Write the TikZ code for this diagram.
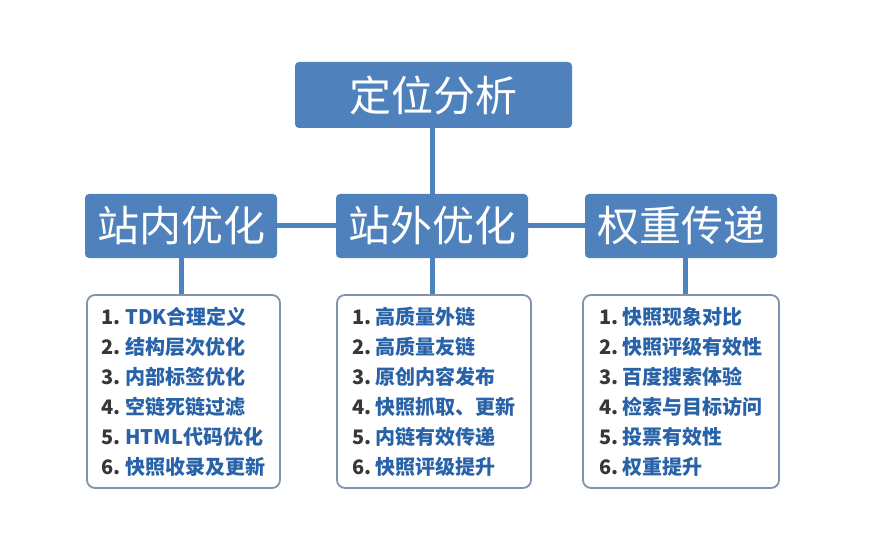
\documentclass[tikz,border=0pt]{standalone}
\usepackage{fontspec}
\setmainfont{Noto Sans CJK SC}
\definecolor{boxblue}{RGB}{79,129,189}
\definecolor{listborder}{RGB}{128,148,175}
\definecolor{itemblue}{RGB}{40,98,168}
\definecolor{numgray}{RGB}{55,55,55}
\newcommand\itm[2]{{\color{numgray}#1.}\ #2}
\begin{document}
\begin{tikzpicture}[x=1pt,y=-1pt,
  headbox/.style={draw=none,fill=boxblue,rounded corners=4pt,text=white,
    font=\fontsize{42}{46}\selectfont,inner sep=0pt},
  listbox/.style={draw=listborder,line width=1.8pt,fill=white,rounded corners=8pt,
    minimum width=#1,minimum height=193pt,inner sep=0pt,align=left,
    text=itemblue,font=\bfseries\fontsize{20}{30}\selectfont},
  link/.style={draw=boxblue,line width=5pt}]
\useasboundingbox (0,0) rectangle (888,537);
\node[headbox,minimum width=277pt,minimum height=66pt] (top) at (433.5,95) {定位分析};
\node[headbox,minimum width=192pt,minimum height=64pt] (left) at (181,226) {站内优化};
\node[headbox,minimum width=192pt,minimum height=64pt] (mid) at (432,226) {站外优化};
\node[headbox,minimum width=192pt,minimum height=64pt] (right) at (681,226) {权重传递};
\node[listbox=193pt] (llist) at (183.5,391.5) {\itm{1}{TDK合理定义}\\\itm{2}{结构层次优化}\\\itm{3}{内部标签优化}\\\itm{4}{空链死链过滤}\\\itm{5}{HTML代码优化}\\\itm{6}{快照收录及更新}};
\node[listbox=194pt] (mlist) at (434,391.5) {\itm{1}{高质量外链}\\\itm{2}{高质量友链}\\\itm{3}{原创内容发布}\\\itm{4}{快照抓取、更新}\\\itm{5}{内链有效传递}\\\itm{6}{快照评级提升}};
\node[listbox=196pt] (rlist) at (681,391.5) {\itm{1}{快照现象对比}\\\itm{2}{快照评级有效性}\\\itm{3}{百度搜索体验}\\\itm{4}{检索与目标访问}\\\itm{5}{投票有效性}\\\itm{6}{权重提升}};
\draw[link] (mid.north) -- (mid.north |- top.south);
\draw[link] (left.east) -- (mid.west);
\draw[link] (mid.east) -- (right.west);
\draw[link] (left.south) -- (left.south |- llist.north);
\draw[link] (mid.south) -- (mid.south |- mlist.north);
\draw[link] ([xshift=4pt]right.south) -- ([xshift=4pt]right.south |- rlist.north);
\end{tikzpicture}
\end{document}
